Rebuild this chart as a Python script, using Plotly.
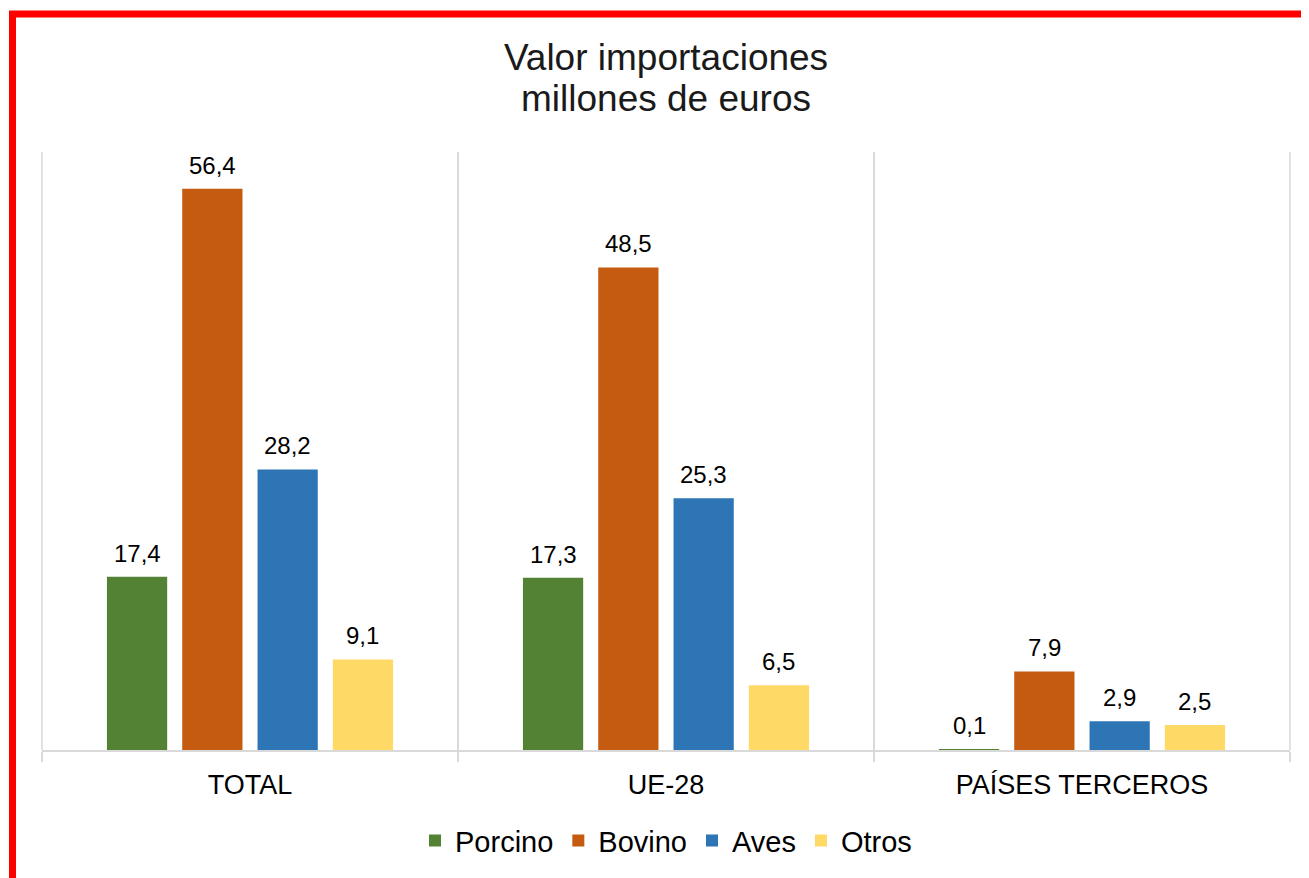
import plotly.graph_objects as go

categorias = ["TOTAL", "UE-28", "PAÍSES TERCEROS"]
porcino = [17.4, 17.3, 0.1]
bovino = [56.4, 48.5, 7.9]
aves = [28.2, 25.3, 2.9]
otros = [9.1, 6.5, 2.5]

series = [("Porcino", porcino, "#548235"),
          ("Bovino", bovino, "#C55A11"),
          ("Aves", aves, "#2E75B6"),
          ("Otros", otros, "#FFD966")]

# the page puts the figure 8px in from the corner
W, H = 1301, 870
ml, mr, mt, mb = 34, 19, 144, 126
pw, ph = W - ml - mr, H - mt - mb
bargap = 0.276


def px_x(v):
    return (v - ml) / pw


def px_y(v):
    return (H - mb - v) / ph


def etiqueta(v):
    return "{0:.1f}".format(v).replace(".", ",")


fig = go.Figure()
for nombre, valores, color in series:
    fig.add_trace(go.Bar(
        x=categorias, y=valores, name=nombre,
        marker=dict(color=color, line=dict(width=0)),
    ))

# value labels above bars, shifted to the slot of each series
slot = pw / len(categorias) * (1 - bargap) / len(series)
anotaciones = []
for i, (nombre, valores, color) in enumerate(series):
    for cat, v in zip(categorias, valores):
        anotaciones.append(dict(
            x=cat, y=v, xref="x", yref="y", text=etiqueta(v),
            showarrow=False, xanchor="center", yanchor="bottom",
            xshift=(i - (len(series) - 1) / 2) * slot, yshift=8,
            font=dict(size=24, color="black")))

anotaciones.append(dict(
    text="millones de euros", xref="paper", yref="paper",
    x=0.5, y=px_y(90), xanchor="center", yanchor="middle",
    showarrow=False, font=dict(size=37, color="#1a1a1a")))

borde = "#d9d9d9"
fig.update_layout(
    width=W, height=H,
    margin=dict(l=ml, r=mr, t=mt, b=mb),
    paper_bgcolor="white", plot_bgcolor="white",
    font=dict(family="Liberation Sans, Arial, sans-serif", color="black"),
    title=dict(text="Valor importaciones", xref="paper",
               x=0.5, xanchor="center", y=1 - 49 / H, yanchor="middle",
               font=dict(size=37, color="#1a1a1a")),
    barmode="group", bargap=bargap, bargroupgap=0.2,
    showlegend=True,
    legend=dict(orientation="h", x=0.5, xanchor="center",
                y=px_y(835), yanchor="middle",
                font=dict(size=29), itemwidth=30, traceorder="normal"),
    xaxis=dict(showline=True, linecolor=borde, linewidth=2,
               tickson="boundaries", ticks="outside", ticklen=10,
               tickcolor=borde, tickwidth=2,
               showgrid=True, gridcolor=borde, gridwidth=1.5,
               ticklabelstandoff=10,
               tickfont=dict(size=27, color="black")),
    yaxis=dict(range=[0, 60.1], visible=False, showgrid=False),
    annotations=anotaciones,
    shapes=[
        dict(type="line", xref="paper", yref="paper", x0=0, x1=0, y0=0, y1=1,
             line=dict(color=borde, width=1.5), layer="below"),
        dict(type="line", xref="paper", yref="paper", x0=1, x1=1, y0=0, y1=1,
             line=dict(color=borde, width=1.5), layer="below"),
        dict(type="rect", xref="paper", yref="paper",
             x0=px_x(4.5), x1=px_x(1330),
             y0=px_y(900), y1=px_y(5.5),
             line=dict(color="red", width=7), layer="above"),
    ],
)

fig.write_html("out.html")
